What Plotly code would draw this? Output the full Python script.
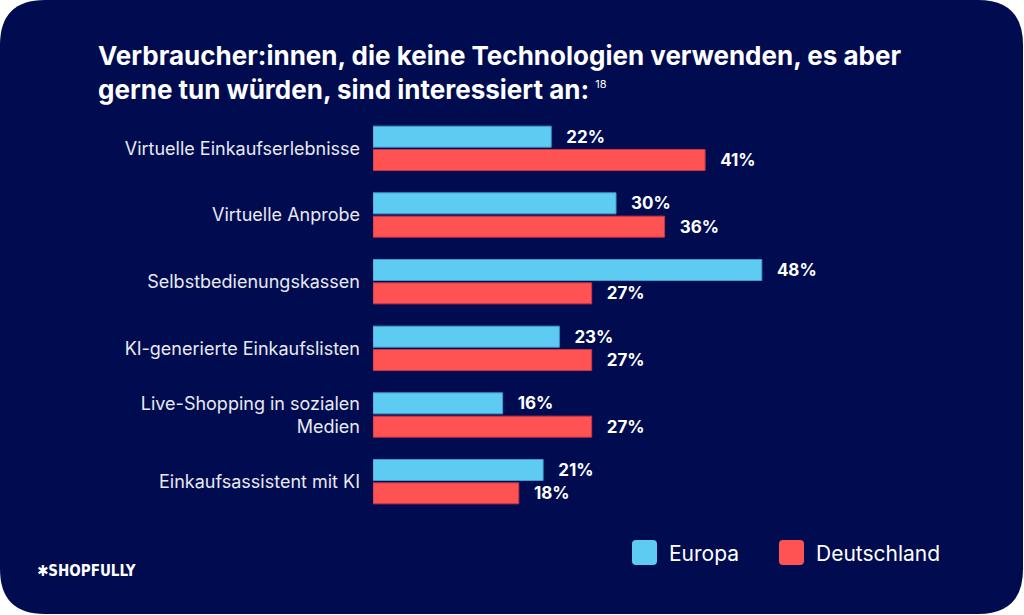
import plotly.graph_objects as go

# data
categories = [
    "Virtuelle Einkaufserlebnisse",
    "Virtuelle Anprobe",
    "Selbstbedienungskassen",
    "KI-generierte Einkaufslisten",
    "Live-Shopping in sozialen<br>Medien",
    "Einkaufsassistent mit KI",
]
europa = [22, 30, 48, 23, 16, 21]
deutschland = [41, 36, 27, 27, 27, 18]
series_names = ["Europa", "Deutschland"]

NAVY = "#000C4F"
BLUE = "#5ECBF2"
RED = "#FF5253"
FONT = "Inter, DejaVu Sans, sans-serif"

W, H = 1024, 615
margin = dict(l=373, r=165, t=115, b=100)
pw = W - margin["l"] - margin["r"]
ph = H - margin["t"] - margin["b"]


def px(x):
    # pixel x -> paper x
    return (x - margin["l"]) / pw


def py(y):
    # pixel y (from top) -> paper y
    return (H - margin["b"] - y) / ph


def rounded_rect(x0, y0, x1, y1, r):
    return (
        f"M {px(x0 + r)},{py(y0)} L {px(x1 - r)},{py(y0)} "
        f"Q {px(x1)},{py(y0)} {px(x1)},{py(y0 + r)} "
        f"L {px(x1)},{py(y1 - r)} Q {px(x1)},{py(y1)} {px(x1 - r)},{py(y1)} "
        f"L {px(x0 + r)},{py(y1)} Q {px(x0)},{py(y1)} {px(x0)},{py(y1 - r)} "
        f"L {px(x0)},{py(y0 + r)} Q {px(x0)},{py(y0)} {px(x0 + r)},{py(y0)} Z"
    )


fig = go.Figure()
for name, vals, col, line in [
    (series_names[0], europa, BLUE, "#3C9FD0"),
    (series_names[1], deutschland, RED, "#C93345"),
]:
    fig.add_trace(
        go.Bar(
            y=categories,
            x=vals,
            name=name,
            orientation="h",
            marker=dict(color=col, line=dict(color=line, width=1)),
            texttemplate="\u00a0\u00a0\u00a0%{x}%",
            textposition="outside",
            textfont=dict(color="white", size=17, family=FONT, weight="bold"),
            cliponaxis=False,
            hoverinfo="skip",
        )
    )

shapes = [
    dict(
        type="path",
        xref="paper",
        yref="paper",
        path=rounded_rect(0, 0, 1023, 614, 45),
        fillcolor=NAVY,
        line=dict(width=0),
        layer="below",
    )
]

# legend drawn by hand: big rounded squares
annotations = []
legend_x = [632, 779]
for name, col, lx in zip(series_names, [BLUE, RED], legend_x):
    shapes.append(
        dict(
            type="path",
            xref="paper",
            yref="paper",
            path=rounded_rect(lx, 540, lx + 25, 565, 4),
            fillcolor=col,
            line=dict(width=0),
        )
    )
    annotations.append(
        dict(
            x=px(lx + 35),
            y=py(553),
            xref="paper",
            yref="paper",
            text=name,
            showarrow=False,
            xanchor="left",
            yanchor="middle",
            font=dict(color="white", size=21, family=FONT),
        )
    )

annotations.append(
    dict(
        x=px(35),
        y=py(571),
        xref="paper",
        yref="paper",
        text="<b>\u2731SHOPFULLY</b>",
        showarrow=False,
        xanchor="left",
        yanchor="middle",
        font=dict(color="white", size=15, family="Liberation Sans Narrow, DejaVu Sans Condensed"),
    )
)

fig.update_layout(
    width=W,
    height=H,
    margin=margin,
    paper_bgcolor="white",
    plot_bgcolor="rgba(0,0,0,0)",
    barmode="group",
    bargap=0.3,
    bargroupgap=0.1,
    showlegend=False,
    shapes=shapes,
    annotations=annotations,
    title=dict(
        text="Verbraucher:innen, die keine Technologien verwenden, es aber<br>"
        "gerne tun würden, sind interessiert an: <sup><span style='font-size:11px;font-weight:normal'>18</span></sup>",
        x=98 / W,
        xref="container",
        xanchor="left",
        y=1 - 65 / H,
        yref="container",
        yanchor="top",
        font=dict(color="white", size=26, family=FONT, weight="bold"),
    ),
    font=dict(family=FONT, color="white"),
)
fig.update_xaxes(range=[0, 60], visible=False)
fig.update_yaxes(
    autorange="reversed",
    showgrid=False,
    showline=False,
    zeroline=False,
    ticks="",
    ticklabelstandoff=12,
    tickfont=dict(color="#E8E9F2", size=18, family=FONT),
)

# drop the default page margin so the figure sits at the window corner
fig.write_html(
    "out.html",
    config={"displayModeBar": False},
    post_script="document.body.style.margin='0';",
)
